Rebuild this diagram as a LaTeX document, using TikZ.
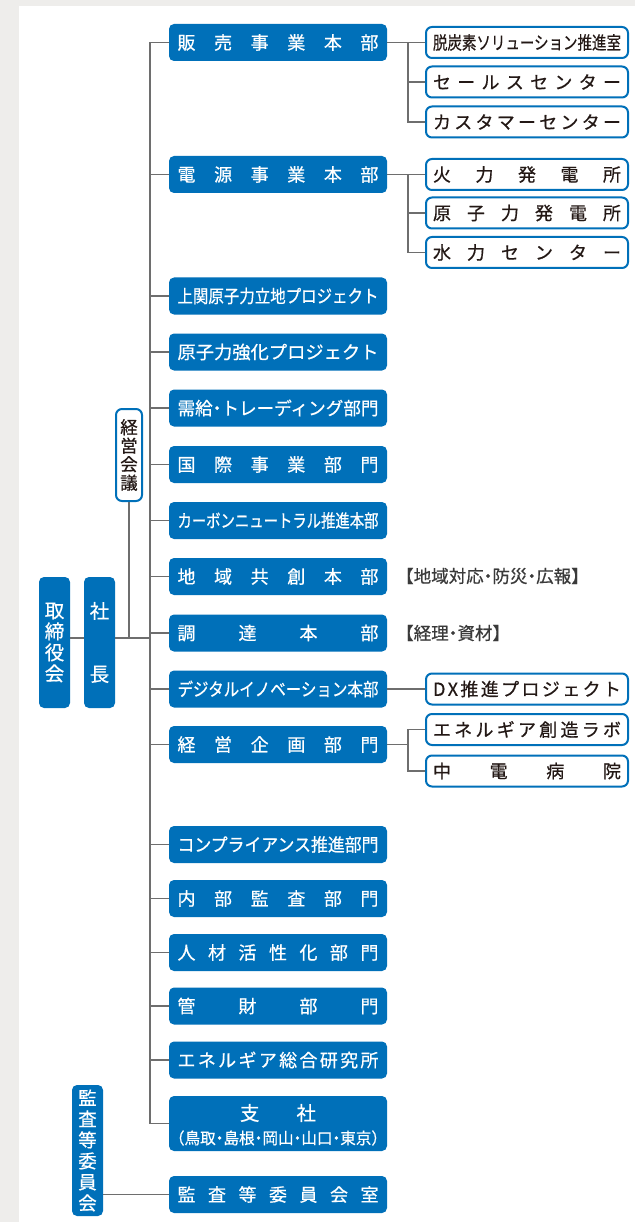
\documentclass[tikz,border=0pt]{standalone}
\usepackage{fontspec}
\setmainfont{Noto Sans CJK JP}[FakeBold=0.6]
\usepackage{graphicx}
\definecolor{cblue}{HTML}{0070B9}
\definecolor{cline}{HTML}{6E6E6E}
\definecolor{cbg}{HTML}{EEEDEB}
\definecolor{ctext}{HTML}{231815}
\definecolor{cnote}{HTML}{3A3A3A}
\def\sprA#1{#1\sprB}
\def\sprB#1{\ifx\relax#1\else\hfill#1\expandafter\sprB\fi}
\newcommand\spread[2]{\makebox[#1][s]{\sprA#2\relax}}
\newcommand\squeeze[2]{\resizebox{#1}{\height}{#2}}
\newcommand\nd{\makebox[0.5em][c]{・}}
\tikzset{
  bluebox/.style={rectangle, rounded corners=5pt, fill=cblue, text=white,
    minimum width=218pt, minimum height=37pt, inner sep=0pt,
    font=\fontsize{18}{18}\selectfont},
  subbox/.style={rectangle, rounded corners=6pt, fill=white, draw=cblue,
    line width=2pt, text=ctext, minimum width=202pt, minimum height=31pt,
    inner sep=0pt, font=\fontsize{18}{18}\selectfont},
  vblue/.style={rectangle, rounded corners=5pt, fill=cblue, text=white,
    minimum width=31pt, minimum height=131pt, inner sep=0pt, align=center},
  vwhite/.style={rectangle, rounded corners=6pt, fill=white, draw=cblue,
    line width=2pt, text=ctext, minimum width=26pt, minimum height=92pt,
    inner sep=0pt, align=center, font=\fontsize{17.5}{18.5}\selectfont},
  notetext/.style={anchor=west, inner sep=0pt, text=cnote,
    font=\fontsize{17.5}{17.5}\selectfont},
  conn/.style={draw=cline, line width=1.5pt},
}
\begin{document}
\begin{tikzpicture}[x=1pt,y=-1pt]
\useasboundingbox (0,0) rectangle (635,1222);
\fill[cbg] (0,0) rectangle (635,1222);
\fill[white] (19,6) rectangle (635,1222);

% main column
\node[bluebox] (n1) at (278,42.5) {\spread{201pt}{販売事業本部}};
\node[bluebox] (n2) at (278,174.5) {\spread{201pt}{電源事業本部}};
\node[bluebox] (n3) at (278,296) {\squeeze{201pt}{上関原子力立地プロジェクト}};
\node[bluebox] (n4) at (278,352) {\squeeze{201pt}{原子力強化プロジェクト}};
\node[bluebox] (n5) at (278,408) {\squeeze{201pt}{需給\nd トレーディング部門}};
\node[bluebox] (n6) at (278,464.5) {\spread{201pt}{国際事業部門}};
\node[bluebox] (n7) at (278,520.5) {\squeeze{201pt}{カーボンニュートラル推進本部}};
\node[bluebox] (n8) at (278,576.5) {\spread{201pt}{地域共創本部}};
\node[bluebox] (n9) at (278,633) {\spread{201pt}{調達本部}};
\node[bluebox] (n10) at (278,689) {\squeeze{201pt}{デジタルイノベーション本部}};
\node[bluebox] (n11) at (278,744.5) {\spread{201pt}{経営企画部門}};
\node[bluebox] (n12) at (278,844.5) {\squeeze{201pt}{コンプライアンス推進部門}};
\node[bluebox] (n13) at (278,898.5) {\spread{201pt}{内部監査部門}};
\node[bluebox] (n14) at (278,952.5) {\spread{201pt}{人材活性化部門}};
\node[bluebox] (n15) at (278,1006) {\spread{201pt}{管財部門}};
\node[bluebox] (n16) at (278,1060) {\spread{201pt}{エネルギア総合研究所}};
\node[bluebox, minimum height=55pt] (n17) at (278,1123.5) {};
\node[inner sep=0pt, text=white, font=\fontsize{19.5}{19.5}\selectfont] (n17a)
  at ([yshift=10.5pt]n17.center) {支\hspace{37pt}社};
\node[inner sep=0pt, text=white, font=\fontsize{16}{16}\selectfont] (n17b)
  at ([yshift=-14.5pt]n17.center) {\squeeze{218pt}{（鳥取\nd 島根\nd 岡山\nd 山口\nd 東京）}};
\node[bluebox] (n18) at (278,1194.5) {\spread{201pt}{監査等委員会室}};

% sub boxes
\node[subbox] (r1) at (527,42.5) {\squeeze{188pt}{脱炭素ソリューション推進室}};
\node[subbox] (r2) at (527,82) {\spread{188pt}{セールスセンター}};
\node[subbox] (r3) at (527,122) {\spread{188pt}{カスタマーセンター}};
\node[subbox] (r4) at (527,174.5) {\spread{188pt}{火力発電所}};
\node[subbox] (r5) at (527,213) {\spread{188pt}{原子力発電所}};
\node[subbox] (r6) at (527,252.5) {\spread{188pt}{水力センター}};
\node[subbox] (r7) at (527,689) {\spread{188pt}{DX推進プロジェクト}};
\node[subbox] (r8) at (527,729.5) {\spread{188pt}{エネルギア創造ラボ}};
\node[subbox] (r9) at (527,771) {\spread{188pt}{中電病院}};

% notes
\node[notetext] (t1) at (396,576) {【地域対応\nd 防災\nd 広報】};
\node[notetext] (t2) at (396,633) {【経理\nd 資材】};

% vertical boxes
\node[vblue, font=\fontsize{19.5}{21}\selectfont] (v1) at (54.5,642.5) {取\\締\\役\\会};
\node[vblue, font=\fontsize{19.5}{63}\selectfont] (v2) at (99.5,642.5) {社\\長};
\node[vwhite] (v3) at (129,455) {経\\営\\会\\議};
\node[vblue, font=\fontsize{18.5}{21}\selectfont] (v4) at (87.5,1150.5) {監\\査\\等\\委\\員\\会};

% connectors
\coordinate (sp) at (150,0);
\coordinate (br) at (408,0);
\coordinate (j) at (150,638);
\draw[conn] (sp |- n1.west) -- (sp |- n17.west);
\foreach \k in {1,...,17} { \draw[conn] (sp |- n\k.west) -- (n\k.west); }
\draw[conn] (v1.east |- j) -- (v2.west |- j);
\draw[conn] (v2.east |- j) -- (j);
\draw[conn] (v3.south) -- (v3.south |- j);
\draw[conn] (v4.east |- n18.west) -- (n18.west);
% 販売 branch
\draw[conn] (n1.east) -- (r1.west);
\draw[conn] (br |- r1.west) |- (r3.west);
\draw[conn] (br |- r2.west) -- (r2.west);
% 電源 branch
\draw[conn] (n2.east) -- (r4.west);
\draw[conn] (br |- r4.west) |- (r6.west);
\draw[conn] (br |- r5.west) -- (r5.west);
% デジタル
\draw[conn] (n10.east) -- (r7.west);
% 経営企画
\draw[conn] (n11.east) -- (br |- n11.east);
\draw[conn] (r8.west) -| (br |- r9.west) -- (r9.west);
\end{tikzpicture}
\end{document}
